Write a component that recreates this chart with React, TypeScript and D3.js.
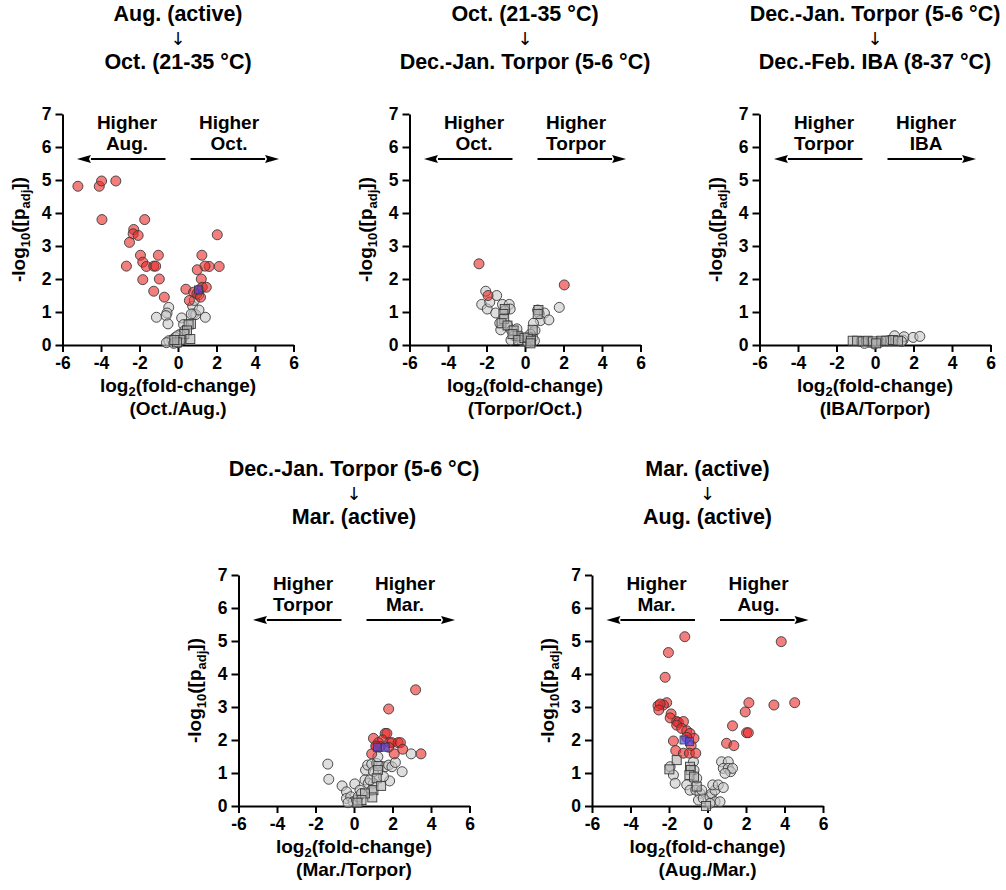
import { useRef, useEffect } from 'react';
import * as d3 from 'd3';

type Pt = [number, number];

const xTicks = [-6, -4, -2, 0, 2, 4, 6];
const yTicks = [0, 1, 2, 3, 4, 5, 6, 7];

// Aug. -> Oct.
const p1Red: Pt[] = [
  [-5.2, 4.81], [-4.09, 4.81], [-3.97, 4.97], [-3.23, 4.97], [-3.95, 3.8], [-1.73, 3.8],
  [-2.3, 3.5], [-2.33, 3.37], [-2.07, 3.32], [-2.52, 3.11], [-1.95, 2.72], [-1.02, 2.72],
  [-1.83, 2.51], [-1.64, 2.38], [-1.26, 2.39], [-1.16, 2.39], [-2.68, 2.39], [-0.97, 2.0],
  [-1.83, 1.98], [-1.26, 1.63], [-0.71, 1.45],
  [2.04, 3.34], [2.14, 2.38], [1.62, 2.38], [1.4, 2.39], [1.24, 2.72], [1.0, 2.28],
  [1.21, 2.0], [0.41, 1.69], [0.81, 1.6], [0.98, 1.55], [1.1, 1.67], [1.26, 1.75],
  [1.47, 1.75], [0.59, 1.35], [1.17, 1.45],
];
const p1Gray: Pt[] = [
  [-0.48, 1.14], [-0.57, 0.97], [-0.62, 0.89], [-0.52, 0.64], [-1.12, 0.84], [0.19, 0.82],
  [0.76, 1.18], [0.85, 1.35], [1.07, 1.52], [0.81, 0.94], [0.92, 0.92], [1.09, 1.06],
  [1.42, 0.84], [0.69, 0.94], [0.29, 0.62], [0.35, 0.44], [0.12, 0.33], [-0.14, 0.23],
  [-0.31, 0.15], [-0.48, 0.13], [-0.6, 0.07], [-0.22, 0.05], [0.03, 0.07], [0.21, 0.18],
  [-0.02, 0.28],
];
const p1Square: Pt[] = [
  [0.67, 0.64], [0.55, 0.62], [0.47, 0.44], [0.33, 0.33], [0.64, 0.18], [0.12, 0.15],
  [-0.05, 0.08], [-0.19, 0.15],
];
const p1Blue: Pt[] = [[1.07, 1.67]];

// Oct. -> Torpor
const p2Red: Pt[] = [[-2.39, 2.46], [-1.92, 1.5], [2.04, 1.82]];
const p2Gray: Pt[] = [
  [-2.04, 1.63], [-2.25, 1.23], [-1.96, 1.09], [-1.83, 1.3], [-1.47, 1.5], [-1.52, 0.97],
  [-1.17, 1.23], [-0.82, 1.23], [-0.77, 1.09], [-1.05, 1.04], [-1.31, 0.66], [-1.26, 0.46],
  [-0.91, 0.59], [-0.7, 0.44], [-0.42, 0.49], [-0.56, 0.28], [-0.73, 0.15], [-0.24, 0.23],
  [-0.17, 0.13], [0.14, 0.08], [0.66, 1.06], [0.75, 0.94], [1.01, 0.97], [0.8, 0.74],
  [1.24, 0.76], [1.78, 1.14], [0.44, 0.66], [0.52, 0.44], [0.4, 0.23], [0.28, 0.33],
  [0.23, 0.18], [0.49, 0.13],
];
const p2Square: Pt[] = [
  [-1.05, 1.09], [-1.12, 0.94], [-1.08, 0.79], [-1.22, 0.66], [-0.91, 0.59], [-0.59, 0.44],
  [-0.38, 0.28], [-0.65, 0.33], [-0.35, 0.15], [-0.03, 0.21], [0.14, 0.23], [0.31, 0.13],
  [0.4, 0.46], [0.28, 0.05], [0.7, 1.06], [0.66, 0.94],
];
const p2Blue: Pt[] = [];

// Torpor -> IBA
const p3Red: Pt[] = [];
const p3Gray: Pt[] = [
  [-0.72, 0.11], [-0.29, 0.08], [0.24, 0.08], [0.67, 0.13], [1.02, 0.28], [1.46, 0.15],
  [1.51, 0.25], [1.98, 0.23], [2.33, 0.26], [0.85, 0.13], [1.37, 0.11], [-0.55, 0.05],
  [-0.03, 0.03],
];
const p3Square: Pt[] = [
  [-1.16, 0.13], [-0.93, 0.13], [-0.64, 0.11], [-0.38, 0.13], [-0.11, 0.11], [0.32, 0.13],
  [0.59, 0.13], [0.93, 0.15], [1.2, 0.13], [0.06, 0.05],
];
const p3Blue: Pt[] = [];

// Torpor -> Mar.
const p4Red: Pt[] = [
  [3.2, 3.52], [1.8, 2.94], [1.62, 2.2], [1.71, 2.2], [1.01, 2.05], [1.48, 2.0],
  [1.27, 1.92], [1.18, 1.8], [1.36, 1.8], [1.85, 1.92], [1.97, 1.92], [2.29, 1.92],
  [2.41, 1.92], [1.8, 1.78], [2.53, 1.72], [0.92, 1.58], [2.09, 1.58], [3.48, 1.58],
  [1.13, 1.82],
];
const p4Gray: Pt[] = [
  [-1.36, 1.27], [-1.31, 0.81], [-0.62, 0.61], [-0.39, 0.43], [-0.39, 0.23], [-0.17, 0.28],
  [-0.04, 0.13], [-0.31, 0.1], [0.13, 0.18], [0.22, 0.28], [0.04, 0.67], [0.31, 0.48],
  [0.39, 0.38], [0.57, 0.79], [0.6, 1.09], [0.71, 1.24], [0.92, 1.27], [1.18, 1.29],
  [1.24, 1.49], [1.01, 1.04], [0.74, 0.69], [1.01, 0.69], [0.92, 0.48], [1.62, 1.19],
  [1.8, 1.24], [1.97, 1.19], [2.15, 1.32], [2.5, 1.04], [2.97, 1.58], [1.85, 0.76],
  [1.53, 0.89], [0.83, 0.79],
];
const p4Square: Pt[] = [
  [1.27, 1.21], [1.24, 1.09], [1.18, 0.84], [1.01, 0.48], [0.95, 0.26], [1.41, 0.61],
  [0.57, 0.38], [0.39, 0.18], [0.18, 0.1],
];
const p4Blue: Pt[] = [[1.22, 1.78], [1.62, 1.78]];

// Mar. -> Aug.
const p5Red: Pt[] = [
  [-1.18, 5.13], [-2.03, 4.65], [-2.2, 3.9], [-2.12, 3.13], [-2.29, 3.06], [-2.57, 3.04],
  [-2.46, 3.09], [-2.53, 2.91], [-1.89, 2.79], [-1.94, 2.67], [-1.6, 2.56], [-1.51, 2.53],
  [-1.25, 2.56], [-1.6, 2.45], [-1.34, 2.35], [-1.08, 2.28], [-0.91, 2.2], [-0.7, 2.05],
  [-1.08, 2.08], [-1.77, 1.97], [-0.85, 1.83], [-1.65, 1.68], [-1.25, 1.6], [-0.94, 1.6],
  [-0.61, 1.6],
  [3.83, 4.98], [3.45, 3.06], [4.53, 3.13], [2.15, 3.13], [1.96, 2.85], [2.03, 2.22],
  [2.12, 2.22], [1.3, 2.43], [0.99, 1.9], [1.37, 1.83],
];
const p5Gray: Pt[] = [
  [-1.94, 1.19], [-1.77, 0.94], [-1.68, 0.69], [-1.08, 0.64], [-0.91, 0.48], [-0.73, 1.34],
  [-0.7, 1.09], [-0.56, 0.84], [-0.61, 0.48], [-0.39, 0.38], [-0.47, 0.18], [-0.22, 0.23],
  [-0.3, 0.48], [0.13, 0.28], [0.22, 0.38], [0.39, 0.48], [0.27, 0.64], [0.56, 0.64],
  [0.82, 0.56], [0.73, 1.34], [1.08, 1.34], [0.82, 1.14], [1.08, 1.14], [1.2, 1.04],
  [1.3, 1.14], [0.91, 0.99], [0.39, 0.13], [0.65, 0.13], [0.13, 0.08],
];
const p5Square: Pt[] = [
  [-1.6, 1.39], [-1.98, 1.11], [-0.91, 1.19], [-0.87, 1.09], [-0.94, 0.94], [-0.7, 0.89],
  [-0.56, 0.59], [-0.08, 0.0],
];
const p5Blue: Pt[] = [[-1.22, 2.0], [-0.94, 1.95]];

const panels = [
  { from: 'Aug. (active)', to: 'Oct. (21-35 °C)', ratio: '(Oct./Aug.)', left: ['Higher', 'Aug.'], right: ['Higher', 'Oct.'],
    red: p1Red, gray: p1Gray, square: p1Square, blue: p1Blue, x0: 62.5, y0: 114, titleShift: 0 },
  { from: 'Oct. (21-35 °C)', to: 'Dec.-Jan. Torpor (5-6 °C)', ratio: '(Torpor/Oct.)', left: ['Higher', 'Oct.'], right: ['Higher', 'Torpor'],
    red: p2Red, gray: p2Gray, square: p2Square, blue: p2Blue, x0: 409.5, y0: 114, titleShift: 0 },
  { from: 'Dec.-Jan. Torpor (5-6 °C)', to: 'Dec.-Feb. IBA (8-37 °C)', ratio: '(IBA/Torpor)', left: ['Higher', 'Torpor'], right: ['Higher', 'IBA'],
    red: p3Red, gray: p3Gray, square: p3Square, blue: p3Blue, x0: 759.5, y0: 114, titleShift: 0 },
  { from: 'Dec.-Jan. Torpor (5-6 °C)', to: 'Mar. (active)', ratio: '(Mar./Torpor)', left: ['Higher', 'Torpor'], right: ['Higher', 'Mar.'],
    red: p4Red, gray: p4Gray, square: p4Square, blue: p4Blue, x0: 238.5, y0: 575, titleShift: -6 },
  { from: 'Mar. (active)', to: 'Aug. (active)', ratio: '(Aug./Mar.)', left: ['Higher', 'Mar.'], right: ['Higher', 'Aug.'],
    red: p5Red, gray: p5Gray, square: p5Square, blue: p5Blue, x0: 592, y0: 575, titleShift: -6 },
];

const FONT = '"Liberation Sans", Arial, sans-serif';
const W = 231;
const H = 231;

const VolcanoPanels = () => {
  const svgRef = useRef<SVGSVGElement>(null);

  useEffect(() => {
    if (!svgRef.current) return;
    const svg = d3.select(svgRef.current);
    svg.selectAll('*').remove();

    panels.forEach(p => {
      const x = d3.scaleLinear().domain([-6, 6]).range([0, W]);
      const y = d3.scaleLinear().domain([0, 7]).range([H, 0]);
      const g = svg.append('g').attr('transform', `translate(${p.x0},${p.y0})`);

      // title: from ↓ to
      const cx = W / 2;
      const t0 = p.titleShift;
      const title = g.append('g').attr('font-family', FONT).attr('text-anchor', 'middle').attr('fill', '#000');
      title.append('text').attr('x', cx).attr('y', t0 - 93).attr('font-size', 21.5).attr('font-weight', 'bold').text(p.from);
      title.append('text').attr('x', cx).attr('y', t0 - 69).attr('font-size', 18)
        .attr('font-family', '"DejaVu Sans", sans-serif').attr('font-weight', 'normal').text('↓');
      title.append('text').attr('x', cx).attr('y', t0 - 45).attr('font-size', 21.5).attr('font-weight', 'bold').text(p.to);

      // axes
      const xa = g.append('g').attr('transform', `translate(0,${H})`)
        .call(d3.axisBottom(x).tickValues(xTicks).tickSize(7).tickSizeOuter(0).tickPadding(5).tickFormat(d => String(d)));
      const ya = g.append('g')
        .call(d3.axisLeft(y).tickValues(yTicks).tickSize(7).tickSizeOuter(0).tickPadding(4).tickFormat(d => String(d)));
      [xa, ya].forEach(a => {
        a.selectAll('path, line').attr('stroke', '#000').attr('stroke-width', 2);
        a.selectAll('text').attr('fill', '#000')
          .style('font-family', FONT).style('font-size', '17.5px').style('font-weight', '700');
      });

      // x label
      const xl = g.append('text').attr('font-family', FONT).attr('font-weight', 'bold').attr('font-size', 19)
        .attr('text-anchor', 'middle').attr('x', cx).attr('y', H + 47);
      xl.append('tspan').text('log');
      xl.append('tspan').attr('font-size', 13).attr('dy', 4).text('2');
      xl.append('tspan').attr('dy', -4).text('(fold-change)');
      g.append('text').attr('font-family', FONT).attr('font-weight', 'bold').attr('font-size', 19)
        .attr('text-anchor', 'middle').attr('x', cx).attr('y', H + 70).text(p.ratio);

      // y label
      const yl = g.append('text').attr('font-family', FONT).attr('font-weight', 'bold').attr('font-size', 19)
        .attr('text-anchor', 'middle').attr('transform', `translate(-38,${H / 2}) rotate(-90)`);
      yl.append('tspan').text('-log');
      yl.append('tspan').attr('font-size', 13).attr('dy', 5).text('10');
      yl.append('tspan').attr('dy', -5).text('([p');
      yl.append('tspan').attr('font-size', 13).attr('dy', 5).text('adj');
      yl.append('tspan').attr('dy', -5).text('])');

      // direction annotations
      const ann = g.append('g').attr('font-family', FONT).attr('font-weight', 'bold').attr('font-size', 19).attr('text-anchor', 'middle');
      [[-2.65, p.left], [2.65, p.right]].forEach(([xv, lines]) => {
        ann.append('text').attr('x', x(xv as number)).attr('y', y(6.55)).text((lines as string[])[0]);
        ann.append('text').attr('x', x(xv as number)).attr('y', y(5.9)).text((lines as string[])[1]);
      });
      const ay = y(5.64);
      [[-0.65, -5.25], [0.65, 5.25]].forEach(([from, to]) => {
        const dir = Math.sign(to);
        const tip = x(to);
        const base = tip - dir * 14;
        g.append('line').attr('x1', x(from)).attr('x2', base).attr('y1', ay).attr('y2', ay)
          .attr('stroke', '#000').attr('stroke-width', 2);
        g.append('path').attr('d', `M${tip},${ay}L${base},${ay - 4}L${base + dir * 2},${ay}L${base},${ay + 4}Z`).attr('fill', '#000');
      });

      // points
      const pts = g.append('g');
      pts.selectAll('.gray').data(p.gray).join('circle')
        .attr('cx', d => x(d[0])).attr('cy', d => y(d[1])).attr('r', 5)
        .attr('fill', 'rgba(200,200,200,0.6)').attr('stroke', '#3a3a3a').attr('stroke-width', 0.9);
      pts.selectAll('.sq').data(p.square).join('rect')
        .attr('x', d => x(d[0]) - 4.5).attr('y', d => y(d[1]) - 4.5).attr('width', 9).attr('height', 9)
        .attr('fill', 'rgba(175,175,175,0.6)').attr('stroke', '#3a3a3a').attr('stroke-width', 0.9);
      pts.selectAll('.red').data(p.red).join('circle')
        .attr('cx', d => x(d[0])).attr('cy', d => y(d[1])).attr('r', 5)
        .attr('fill', 'rgba(235,40,40,0.6)').attr('stroke', '#3a3a3a').attr('stroke-width', 0.9);
      pts.selectAll('.blue').data(p.blue).join('rect')
        .attr('x', d => x(d[0]) - 4).attr('y', d => y(d[1]) - 4).attr('width', 8).attr('height', 8)
        .attr('fill', 'rgba(70,70,230,0.65)').attr('stroke', '#3a3a3a').attr('stroke-width', 0.8);
    });

    return () => { svg.selectAll('*').remove(); };
  }, []);

  return <svg ref={svgRef} width={1006} height={890} style={{ position: 'absolute', left: 0, top: 0, background: '#fff' }} />;
};

export default function App() {
  return <VolcanoPanels />;
}
